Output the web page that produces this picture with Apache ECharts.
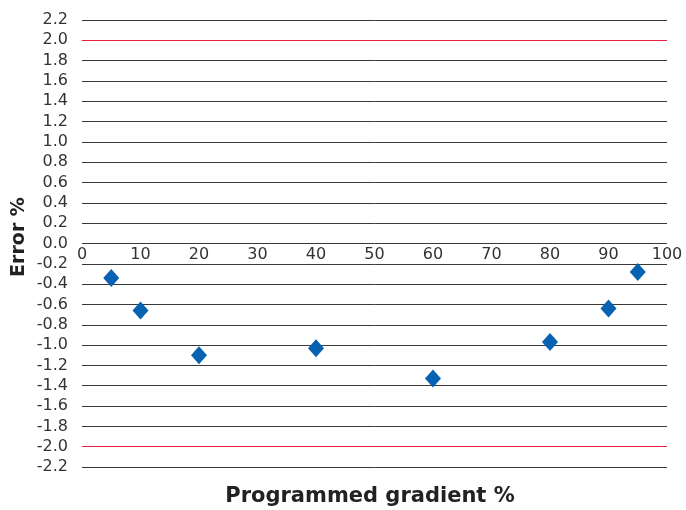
<!DOCTYPE html>
<html>
<head>
<meta charset="utf-8">
<script src="https://cdn.jsdelivr.net/npm/echarts@6/dist/echarts.min.js"></script>
<style>html,body{margin:0;padding:0;background:#fff;}#c{width:686px;height:510px;}</style>
</head>
<body>
<div id="c"></div>
<script>
const gradient = [5, 10, 20, 40, 60, 80, 90, 95];
const errorPct = [-0.34, -0.66, -1.10, -1.03, -1.33, -0.97, -0.64, -0.28];
const limitLines = [2.0, -2.0];
const xTicks = [0, 10, 20, 30, 40, 50, 60, 70, 80, 90, 100];
const xTitle = 'Programmed gradient %';
const yTitle = 'Error %';

const chart = echarts.init(document.getElementById('c'), null, {renderer: 'canvas'});
const font = 'DejaVu Sans, Verdana, sans-serif';
chart.setOption({
  animation: false,
  backgroundColor: '#fff',
  grid: {left: 82, right: 19, top: 20, bottom: 43, containLabel: false, outerBoundsMode: 'none'},
  xAxis: {
    type: 'value', min: 0, max: 100, interval: 10,
    axisLine: {show: false},
    axisTick: {show: false},
    splitLine: {show: false},
    axisLabel: {show: false}
  },
  yAxis: {
    type: 'value', min: -2.2, max: 2.2, interval: 0.2,
    axisLine: {show: false, onZero: false},
    axisTick: {show: false},
    splitLine: {lineStyle: {color: '#3a3a3a', width: 1}},
    axisLabel: {color: '#333', fontSize: 16, fontFamily: font, margin: 14,
      formatter: v => (Math.round(v * 10) / 10).toFixed(1)}
  },
  graphic: [{
    type: 'text', x: 370, y: 497,
    style: {text: xTitle, font: 'bold 21px DejaVu Sans, Verdana, sans-serif', fill: '#222',
      textAlign: 'center', textVerticalAlign: 'middle'}
  }, {
    type: 'text', x: 19, y: 237, rotation: Math.PI / 2,
    style: {text: yTitle, font: 'bold 19px DejaVu Sans, Verdana, sans-serif', fill: '#222',
      textAlign: 'center', textVerticalAlign: 'middle'}
  }],
  series: [{
    type: 'scatter',
    silent: true,
    data: xTicks.map(t => [t, 0]),
    symbol: 'circle', symbolSize: 1,
    itemStyle: {color: 'rgba(0,0,0,0)', opacity: 1},
    label: {show: true, position: 'bottom', distance: 3, color: '#333', opacity: 1, fontSize: 16,
      fontFamily: font, formatter: p => String(p.value[0])},
    z: 1
  }, {
    type: 'scatter',
    data: gradient.map((g, i) => [g, errorPct[i]]),
    symbol: 'diamond', symbolSize: [16, 18],
    itemStyle: {color: '#0862b2', opacity: 1},
    z: 3,
    markLine: {
      silent: true, symbol: ['none', 'none'], label: {show: false},
      lineStyle: {color: '#e8203c', width: 1, type: 'solid'},
      data: limitLines.map(v => ({yAxis: v}))
    }
  }]
});
</script>
</body>
</html>
